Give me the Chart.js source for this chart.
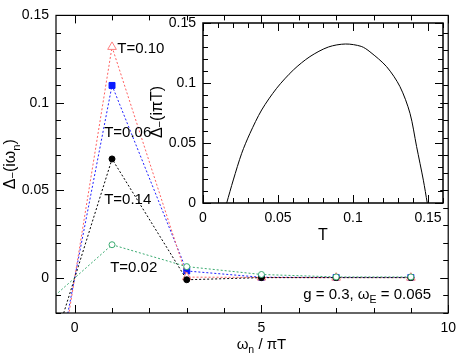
<!DOCTYPE html>
<html>
<head>
<meta charset="utf-8">
<script src="https://cdn.jsdelivr.net/npm/chart.js@4.4.1/dist/chart.umd.min.js"></script>
<style>
  body { margin: 0; background: #fff; }
  #wrap { position: relative; width: 463px; height: 357px; }
  #main { position: absolute; left: 0; top: 0; }
  #inset { position: absolute; left: 140px; top: 5px; }
</style>
</head>
<body>
<div id="wrap">
  <canvas id="main" width="463" height="357"></canvas>
  <canvas id="inset" width="315" height="245"></canvas>
</div>
<script>
// main panel: gap on the Matsubara frequencies (odd in omega)
const omega = [-1, 1, 3, 5, 7, 9]
const gapT010 = [-0.132, 0.132, 0.0005, 0.0003, 0.0002, 0.0002]
const gapT006 = [-0.110, 0.110, 0.004, 0.0004, 0.0003, 0.0003]
const gapT014 = [-0.068, 0.068, -0.001, 0.0002, 0.0002, 0.0002]
const gapT002 = [-0.019, 0.019, 0.0065, 0.002, 0.0006, 0.0006]
const seriesNames = ['T=0.10', 'T=0.06', 'T=0.14', 'T=0.02']
const xTicksMain = [0, 5, 10]
const yTicksMain = [0, 0.05, 0.1, 0.15]

// inset: gap at omega = pi T against temperature
const insetT = [0.0158, 0.0202, 0.0258, 0.0313, 0.0391, 0.0491, 0.0602, 0.0713, 0.0836, 0.095, 0.1055, 0.1113, 0.1224, 0.1313, 0.138, 0.1424, 0.1469, 0.1495]
const insetGap = [0, 0.0192, 0.0414, 0.058, 0.0775, 0.0956, 0.1108, 0.122, 0.1300, 0.1325, 0.1305, 0.126, 0.1136, 0.097, 0.0747, 0.047, 0.019, 0]
const xTicksInset = [0, 0.05, 0.1, 0.15]
const yTicksInset = [0, 0.05, 0.1, 0.15]

const FONT = '"Liberation Sans", Arial, sans-serif'

function pts(xs, ys) { return xs.map((x, i) => ({ x: x, y: ys[i] })) }

// text with subscripts: parts = [[text, isSub], ...]
function drawRich(ctx, parts, x, y, size, align) {
  ctx.textBaseline = 'middle'
  ctx.textAlign = 'left'
  ctx.fillStyle = '#000'
  let w = 0
  for (const [t, sub] of parts) {
    ctx.font = (sub ? size * 0.7 : size) + 'px ' + FONT
    w += ctx.measureText(t).width
  }
  let cx = align == 'center' ? x - w / 2 : (align == 'right' ? x - w : x)
  for (const [t, sub] of parts) {
    ctx.font = (sub ? size * 0.7 : size) + 'px ' + FONT
    ctx.fillText(t, cx, sub ? y + size * (sub === 'low' ? 0.15 : 0.35) : y)
    cx += ctx.measureText(t).width
  }
}

// box around the plot with inward ticks on all four sides
const frameTicks = {
  id: 'frameTicks',
  afterDraw(chart, args, o) {
    const ctx = chart.ctx, a = chart.chartArea, x = chart.scales.x, y = chart.scales.y
    ctx.save()
    ctx.strokeStyle = '#000'
    ctx.lineWidth = o.width
    ctx.strokeRect(a.left, a.top, a.right - a.left, a.bottom - a.top)
    ctx.lineWidth = 1
    ctx.beginPath()
    for (let n = Math.ceil(x.min / o.xMinor - 1e-6); n * o.xMinor <= x.max + 1e-9; n++) {
      const v = n * o.xMinor
      const big = Math.abs(v / o.xMajor - Math.round(v / o.xMajor)) < 1e-6
      const len = big ? o.major : o.minor
      const px = Math.round(x.getPixelForValue(v)) + 0.5
      ctx.moveTo(px, a.bottom); ctx.lineTo(px, a.bottom - len)
      ctx.moveTo(px, a.top); ctx.lineTo(px, a.top + len)
    }
    for (let n = Math.ceil(y.min / o.yMinor - 1e-6); n * o.yMinor <= y.max + 1e-9; n++) {
      const v = n * o.yMinor
      const big = Math.abs(v / o.yMajor - Math.round(v / o.yMajor)) < 1e-6
      const len = big ? o.major : o.minor
      const py = Math.round(y.getPixelForValue(v)) + 0.5
      ctx.moveTo(a.left, py); ctx.lineTo(a.left + len, py)
      ctx.moveTo(a.right, py); ctx.lineTo(a.right - len, py)
    }
    ctx.stroke()
    if (o.texts) o.texts(chart)
    ctx.restore()
  }
}

function axis(min, max, ticks, fit) {
  return {
    type: 'linear', min: min, max: max,
    afterBuildTicks: s => { s.ticks = ticks.map(v => ({ value: v })) },
    afterFit: fit,
    grid: { display: false, drawTicks: false },
    border: { display: false },
    ticks: { color: '#000', font: { family: FONT, size: 14 }, padding: 7, maxRotation: 0, autoSkip: false,
      callback: v => String(+v.toFixed(3)) }
  }
}

new Chart(document.getElementById('main'), {
  type: 'scatter',
  data: {
    datasets: [
      { label: seriesNames[3], data: pts(omega, gapT002), showLine: true, borderColor: '#3aaa70', borderWidth: 1, borderDash: [2, 2],
        pointStyle: 'circle', pointRadius: 3, pointBackgroundColor: '#fff', pointBorderColor: '#3aaa70', pointBorderWidth: 1 },
      { label: seriesNames[2], data: pts(omega, gapT014), showLine: true, borderColor: '#000', borderWidth: 1, borderDash: [2, 2],
        pointStyle: 'circle', pointRadius: 3, pointBackgroundColor: '#000', pointBorderColor: '#000' },
      { label: seriesNames[0], data: pts(omega, gapT010), showLine: true, borderColor: '#ff6060', borderWidth: 1, borderDash: [2, 2],
        pointStyle: 'triangle', pointRadius: 5, pointBackgroundColor: '#fff', pointBorderColor: '#ff8080', pointBorderWidth: 1 },
      { label: seriesNames[1], data: pts(omega, gapT006), showLine: true, borderColor: '#2020ff', borderWidth: 1, borderDash: [2, 2],
        pointStyle: 'rect', pointRadius: 4.2, pointBackgroundColor: '#0a1aff', pointBorderColor: '#0a1aff' }
    ]
  },
  options: {
    responsive: false, animation: false, devicePixelRatio: 1,
    layout: { padding: { top: 8, right: 10, left: 0, bottom: 0 } },
    scales: {
      x: axis(-0.5, 10, xTicksMain, s => { s.height = 44 }),
      y: axis(-0.02, 0.15, yTicksMain, s => { s.width = 56 })
    },
    plugins: {
      legend: { display: false }, tooltip: { enabled: false },
      frameTicks: {
        xMinor: 1, xMajor: 5, yMinor: 0.01, yMajor: 0.05, major: 8, minor: 5, width: 1.2,
        texts: chart => {
          const ctx = chart.ctx, a = chart.chartArea, x = chart.scales.x, y = chart.scales.y
          // series labels beside the peaks
          const spots = [[1.14, 0.131], [0.79, 0.083], [0.79, 0.0446], [0.95, 0.0056]]
          seriesNames.forEach((s, i) => drawRich(ctx, [[s]], x.getPixelForValue(spots[i][0]), y.getPixelForValue(spots[i][1]), 15, 'left'))
          drawRich(ctx, [['g = 0.3, ω'], ['E', true], [' = 0.065']], a.right - 17, y.getPixelForValue(-0.0095), 15, 'right')
          drawRich(ctx, [['ω'], ['n', true], [' / πT']], x.getPixelForValue(5), 345, 15, 'center')
          ctx.save()
          ctx.translate(11, (a.top + a.bottom) / 2)
          ctx.rotate(-Math.PI / 2)
          drawRich(ctx, [['Δ'], ['−', 'low'], ['(iω'], ['n', true], [')']], 0, 0, 16, 'center')
          ctx.restore()
        }
      }
    }
  },
  plugins: [frameTicks]
})

new Chart(document.getElementById('inset'), {
  type: 'scatter',
  data: {
    datasets: [
      { data: pts(insetT, insetGap), showLine: true, borderColor: '#000', borderWidth: 1, pointRadius: 0, tension: 0.3 }
    ]
  },
  options: {
    responsive: false, animation: false, devicePixelRatio: 1,
    layout: { padding: { top: 18, right: 12, left: 0, bottom: 0 } },
    scales: {
      x: axis(0, 0.16, xTicksInset, s => { s.height = 47 }),
      y: axis(0, 0.15, yTicksInset, s => { s.width = 63 })
    },
    plugins: {
      legend: { display: false }, tooltip: { enabled: false },
      frameTicks: {
        xMinor: 0.01, xMajor: 0.05, yMinor: 0.01, yMajor: 0.05, major: 8, minor: 5, width: 1.5,
        texts: chart => {
          const ctx = chart.ctx, a = chart.chartArea
          drawRich(ctx, [['T']], (a.left + a.right) / 2, 231, 16, 'center')
          ctx.save()
          ctx.translate(18, 107)
          ctx.rotate(-Math.PI / 2)
          drawRich(ctx, [['Δ'], ['−', 'low'], ['(iπT)']], 0, 0, 16, 'center')
          ctx.restore()
        }
      }
    }
  },
  plugins: [frameTicks]
})
</script>
</body>
</html>
